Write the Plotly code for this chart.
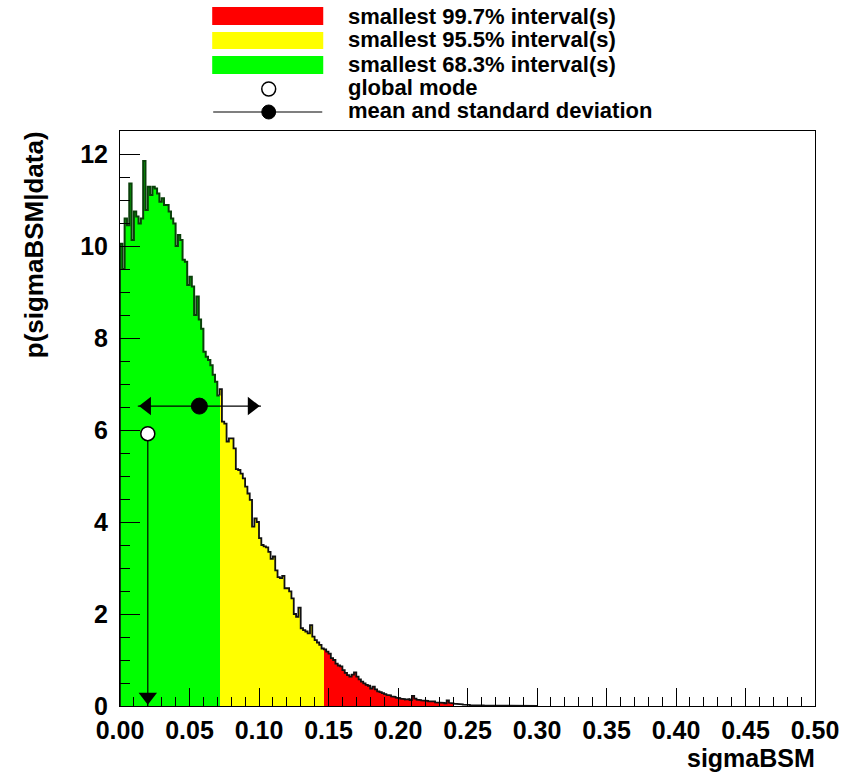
import numpy as np
import plotly.graph_objects as go

# ---------------- data ----------------
bin_width = 1.0 / 600.0          # 300 bins over [0, 0.5]
density = [
    10.05, 9.50, 10.60, 10.45, 11.36, 10.13, 10.75, 10.64, 10.49, 10.60,
    11.85, 10.78, 11.29, 11.11, 11.29, 11.25, 11.14, 10.96, 11.04, 10.89,
    10.89, 10.75, 10.60, 10.49, 10.00, 10.24, 10.13, 9.70, 9.66, 9.15,
    9.33, 9.12, 8.50, 8.90, 8.40, 8.20, 7.70, 7.59, 7.52, 7.41,
    7.20, 7.05, 6.75, 6.89, 6.18, 6.14, 5.75, 5.82, 5.82, 5.60,
    5.15, 5.13, 5.05, 4.95, 4.77, 4.62, 4.48, 3.90, 4.08, 4.00,
    3.65, 3.50, 3.47, 3.45, 3.35, 3.20, 3.25, 2.95, 2.80, 2.78,
    2.83, 2.56, 2.56, 2.49, 2.34, 2.00, 1.94, 2.14, 1.69, 1.65,
    1.62, 1.58, 1.76, 1.51, 1.43, 1.38, 1.33, 1.25, 1.23, 1.18,
    1.14, 1.04, 1.00, 0.92, 0.88, 0.86, 0.78, 0.72, 0.67, 0.64,
    0.68, 0.73, 0.64, 0.58, 0.53, 0.49, 0.46, 0.44, 0.38, 0.42,
    0.36, 0.32, 0.30, 0.28, 0.26, 0.24, 0.23, 0.21, 0.20, 0.18,
    0.17, 0.16, 0.15, 0.14, 0.15, 0.13, 0.22, 0.16, 0.14, 0.13,
    0.12, 0.12, 0.11, 0.10, 0.09, 0.10, 0.08, 0.08, 0.07, 0.07,
    0.06, 0.12, 0.07, 0.06, 0.05, 0.04, 0.045, 0.035, 0.03, 0.04,
    0.025, 0.02, 0.03, 0.02, 0.015, 0.025, 0.015, 0.01, 0.015, 0.01,
    0.012, 0.008, 0.01, 0.006, 0.008, 0.005, 0.006, 0.004, 0.006, 0.003,
    0.004, 0.003, 0.004, 0.002, 0.003, 0.002, 0.002, 0.003, 0.001, 0.002,
]
interval_683_upper = 0.07167
interval_955_upper = 0.14667
interval_997_upper = 0.24000
mode_x, mode_y = 0.0200, 5.92
mean_x, mean_y, std_x = 0.0571, 6.52, 0.0443

x_range = [0.0, 0.5]
y_range = [0.0, 12.5]
legend_labels = ["smallest 99.7% interval(s)", "smallest 95.5% interval(s)",
                 "smallest 68.3% interval(s)", "global mode",
                 "mean and standard deviation"]

# ---------------- layout geometry ----------------
W, H = 851, 776
ML, MR, MT, MB = 120, 30, 131, 70
PW, PH = W - ML - MR, H - MT - MB
xpx = PW / (x_range[1] - x_range[0])   # pixels per x unit
ypx = PH / (y_range[1] - y_range[0])   # pixels per y unit

def px(x):
    return (x - ML) / PW

def py(y):
    return (H - MB - y) / PH

FONT = "Liberation Sans, Arial, Helvetica, sans-serif"

vals = np.array(density)
n = len(vals)
edges = np.arange(n + 1) * bin_width
centers = edges[:-1] + bin_width / 2

colors = []
for c in centers:
    if c < interval_683_upper:
        colors.append("#00ff00")
    elif c < interval_955_upper:
        colors.append("#ffff00")
    elif c < interval_997_upper:
        colors.append("#ff0000")
    else:
        colors.append("rgba(0,0,0,0)")

fig = go.Figure()
fig.add_trace(go.Bar(x=centers, y=vals, width=bin_width, marker_color=colors,
                     marker_line_width=0, showlegend=False, hoverinfo="skip"))

def step(i0, i1):
    xs, ys = [edges[i0]], [0.0 if i0 == 0 else vals[i0 - 1]]
    for i in range(i0, i1):
        xs += [edges[i], edges[i + 1]]
        ys += [vals[i], vals[i]]
    if i1 == n:
        xs.append(edges[n]); ys.append(0.0)
    return xs, ys

green_end = int(round(interval_683_upper / bin_width))
gx, gy = step(0, green_end)
fig.add_trace(go.Scatter(x=gx, y=gy, mode="lines", line=dict(color="#0a400a", width=2.0),
                         showlegend=False, hoverinfo="skip"))
bx, by = step(green_end, n)
fig.add_trace(go.Scatter(x=bx, y=by, mode="lines", line=dict(color="#111111", width=1.8),
                         showlegend=False, hoverinfo="skip"))

# mode marker with arrow to axis
tri = 16
tip_off = (tri / 2) * 2 / np.sqrt(3)
fig.add_trace(go.Scatter(x=[mode_x, mode_x], y=[mode_y, 0], mode="lines",
                         line=dict(color="black", width=1.2), showlegend=False))
fig.add_trace(go.Scatter(x=[mode_x], y=[tip_off / ypx], mode="markers",
                         marker=dict(symbol="triangle-down", size=tri, color="black",
                                     line=dict(width=0)), showlegend=False))
fig.add_trace(go.Scatter(x=[mode_x], y=[mode_y], mode="markers",
                         marker=dict(symbol="circle", size=14, color="white",
                                     line=dict(color="black", width=1.5)), showlegend=False))

# mean and standard deviation
fig.add_trace(go.Scatter(x=[mean_x - std_x, mean_x + std_x], y=[mean_y, mean_y], mode="lines",
                         line=dict(color="black", width=1.2), showlegend=False))
fig.add_trace(go.Scatter(x=[mean_x - std_x + tip_off / xpx], y=[mean_y], mode="markers",
                         marker=dict(symbol="triangle-left", size=tri, color="black",
                                     line=dict(width=0)), showlegend=False))
fig.add_trace(go.Scatter(x=[mean_x + std_x - tip_off / xpx], y=[mean_y], mode="markers",
                         marker=dict(symbol="triangle-right", size=tri, color="black",
                                     line=dict(width=0)), showlegend=False))
fig.add_trace(go.Scatter(x=[mean_x], y=[mean_y], mode="markers",
                         marker=dict(symbol="circle", size=16, color="black",
                                     line=dict(color="black", width=1)), showlegend=False))

# ---------------- custom legend ----------------
shapes = []
rects = [("#ff0000", 7, 25), ("#ffff00", 32, 49), ("#00ff00", 56, 74)]
for col, y0, y1 in rects:
    shapes.append(dict(type="rect", xref="paper", yref="paper", x0=px(213), x1=px(325),
                       y0=py(y1), y1=py(y0), fillcolor=col, line=dict(width=0)))
shapes.append(dict(type="circle", xref="paper", yref="paper", x0=px(263), x1=px(277),
                   y0=py(96), y1=py(82), fillcolor="white", line=dict(color="black", width=1.5)))
shapes.append(dict(type="line", xref="paper", yref="paper", x0=px(214), x1=px(324),
                   y0=py(112), y1=py(112), line=dict(color="black", width=1.2)))
shapes.append(dict(type="circle", xref="paper", yref="paper", x0=px(263), x1=px(277),
                   y0=py(119), y1=py(105), fillcolor="black", line=dict(color="black", width=1)))

annotations = []
for lab, yc in zip(legend_labels, [16, 40, 64, 88, 111]):
    annotations.append(dict(text=lab, xref="paper", yref="paper", x=px(348), y=py(yc),
                            xanchor="left", yanchor="middle", showarrow=False,
                            font=dict(family=FONT, size=22, color="black", weight="bold")))
annotations.append(dict(text="sigmaBSM", xref="paper", yref="paper", x=px(823), y=py(758),
                        xanchor="right", yanchor="middle", showarrow=False,
                        font=dict(family=FONT, size=25, color="black", weight="bold")))
annotations.append(dict(text="p(sigmaBSM|data)", xref="paper", yref="paper", x=px(33), y=py(129),
                        xanchor="center", yanchor="top", textangle=-90, showarrow=False,
                        font=dict(family=FONT, size=26, color="black", weight="bold")))

tickfont = dict(family=FONT, size=25, color="black", weight="bold")
fig.update_layout(
    width=W, height=H, margin=dict(l=ML, r=MR, t=MT, b=MB),
    paper_bgcolor="white", plot_bgcolor="white", bargap=0, showlegend=False,
    shapes=shapes, annotations=annotations,
    xaxis=dict(range=x_range, dtick=0.05, tick0=0, tickformat=".2f", ticks="inside",
               ticklen=18, tickwidth=1, tickcolor="black", showgrid=False, zeroline=False,
               showline=True, linecolor="black", linewidth=1, mirror=True,
               tickfont=tickfont, ticklabelstandoff=2,
               minor=dict(dtick=0.01, ticks="inside", ticklen=9, tickwidth=1,
                          tickcolor="black", showgrid=False)),
    yaxis=dict(range=y_range, dtick=2, tick0=0, ticks="inside", ticklen=20, tickwidth=1,
               tickcolor="black", showgrid=False, zeroline=False,
               showline=True, linecolor="black", linewidth=1, mirror=True,
               tickfont=tickfont, ticklabelstandoff=6,
               minor=dict(dtick=0.5, ticks="inside", ticklen=10, tickwidth=1,
                          tickcolor="black", showgrid=False)),
)

fig.write_html("out.html")
